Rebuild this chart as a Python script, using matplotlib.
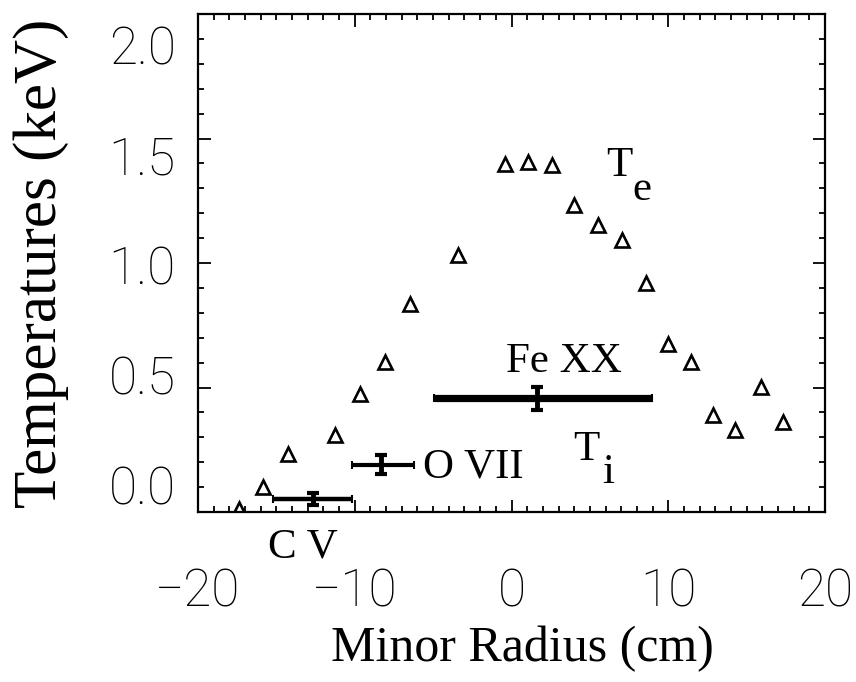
import matplotlib
matplotlib.use('Agg')
import matplotlib.pyplot as plt
from matplotlib.ticker import MultipleLocator, FormatStrFormatter

# Electron temperature profile (triangles)
radius_te = [-17.36, -15.87, -14.29, -11.23, -9.65, -8.10, -6.50, -3.43, -0.43, 1.07,
             2.60, 3.98, 5.54, 7.07, 8.56, 9.99, 11.44, 12.86, 14.27, 15.91, 17.30]
temp_te = [0.011, 0.102, 0.233, 0.309, 0.473, 0.601, 0.835, 1.032, 1.398, 1.407,
           1.394, 1.233, 1.153, 1.092, 0.918, 0.675, 0.601, 0.390, 0.329, 0.503, 0.363]

# Ion temperatures from spectral lines
ions = ['C V', 'O VII', 'Fe XX']
radius_ti = [-12.67, -8.31, 1.60]
temp_ti = [0.052, 0.189, 0.457]
radius_err_lo = [2.56, 1.87, 6.56]
radius_err_hi = [2.49, 2.07, 7.39]
temp_err = [0.025, 0.038, 0.046]

x_ticks = [-20, -10, 0, 10, 20]
y_ticks = [0.0, 0.5, 1.0, 1.5, 2.0]

serif = 'Liberation Serif'
tick_family, tick_weight, tick_size = 'Roboto', 'light', 37

fig = plt.figure(figsize=(8.56, 6.82), dpi=100)
W, H = 856, 682
ax = fig.add_axes([198 / W, 1 - 512 / H, (825 - 198) / W, (512 - 14) / H])

ax.plot(radius_te, temp_te, linestyle='none', marker='^', ms=10,
        mfc='white', mec='black', mew=1.9, clip_on=True)

bar_widths = [3.2, 3.0, 5.2]
for i in range(len(ions)):
    ax.errorbar(radius_ti[i], temp_ti[i],
                xerr=[[radius_err_lo[i]], [radius_err_hi[i]]],
                fmt='none', ecolor='black', elinewidth=bar_widths[i],
                capsize=3, capthick=1.5)
    ax.errorbar(radius_ti[i], temp_ti[i], yerr=temp_err[i],
                fmt='none', ecolor='black', elinewidth=3.5,
                capsize=4, capthick=3)

ax.set_xlim(-20, 20)
ax.set_ylim(0.0, 2.0)
ax.set_xticks(x_ticks)
ax.set_yticks(y_ticks)
ax.xaxis.set_minor_locator(MultipleLocator(1))
ax.yaxis.set_minor_locator(MultipleLocator(0.1))
ax.tick_params(which='both', direction='in', top=True, right=True, width=1.3)
ax.tick_params(which='major', length=9)
ax.tick_params(which='minor', length=4.5)
ax.tick_params(axis='x', which='major', pad=40)
ax.tick_params(axis='y', labelleft=False)
for lab in ax.get_xticklabels():
    lab.set_fontfamily(tick_family)
    lab.set_fontweight(tick_weight)
    lab.set_fontsize(tick_size)
for sp in ax.spines.values():
    sp.set_linewidth(1.6)

# the printed temperature labels sit on a slightly compressed scale in the source figure
def to_label(d):
    return (249.0 * d - 27.4) / 220.0


def to_data(v):
    return (220.0 * v + 27.4) / 249.0


sec = ax.secondary_yaxis('left', functions=(to_label, to_data))
sec.set_yticks(y_ticks)
sec.yaxis.set_major_formatter(FormatStrFormatter('%.1f'))
sec.tick_params(axis='y', which='both', length=0, pad=16)
sec.spines['left'].set_visible(False)
for lab in sec.get_yticklabels():
    lab.set_fontfamily(tick_family)
    lab.set_fontweight(tick_weight)
    lab.set_fontsize(tick_size)

ax.set_xlabel('Minor Radius (cm)', fontfamily=serif, fontsize=36)
ax.xaxis.set_label_coords(0.5176, -0.228)
ax.set_ylabel('Temperatures (keV)', fontfamily=serif, fontsize=44)
ax.yaxis.set_label_coords(-0.205, 0.5)

tsize = 31
ax.text(6.07, 1.349, 'T', fontfamily=serif, fontsize=tsize, ha='left', va='baseline')
ax.text(7.71, 1.253, 'e', fontfamily=serif, fontsize=tsize, ha='left', va='baseline')
ax.text(3.96, 0.209, 'T', fontfamily=serif, fontsize=tsize, ha='left', va='baseline')
ax.text(5.81, 0.116, 'i', fontfamily=serif, fontsize=tsize, ha='left', va='baseline')
ax.text(-0.38, 0.562, ions[2], fontfamily=serif, fontsize=tsize, ha='left', va='baseline')
ax.text(-5.62, 0.137, ions[1], fontfamily=serif, fontsize=tsize, ha='left', va='baseline')
ax.text(-15.53, -0.181, ions[0], fontfamily=serif, fontsize=tsize, ha='left', va='baseline',
        clip_on=False)

fig.savefig('out.png', dpi=100)
